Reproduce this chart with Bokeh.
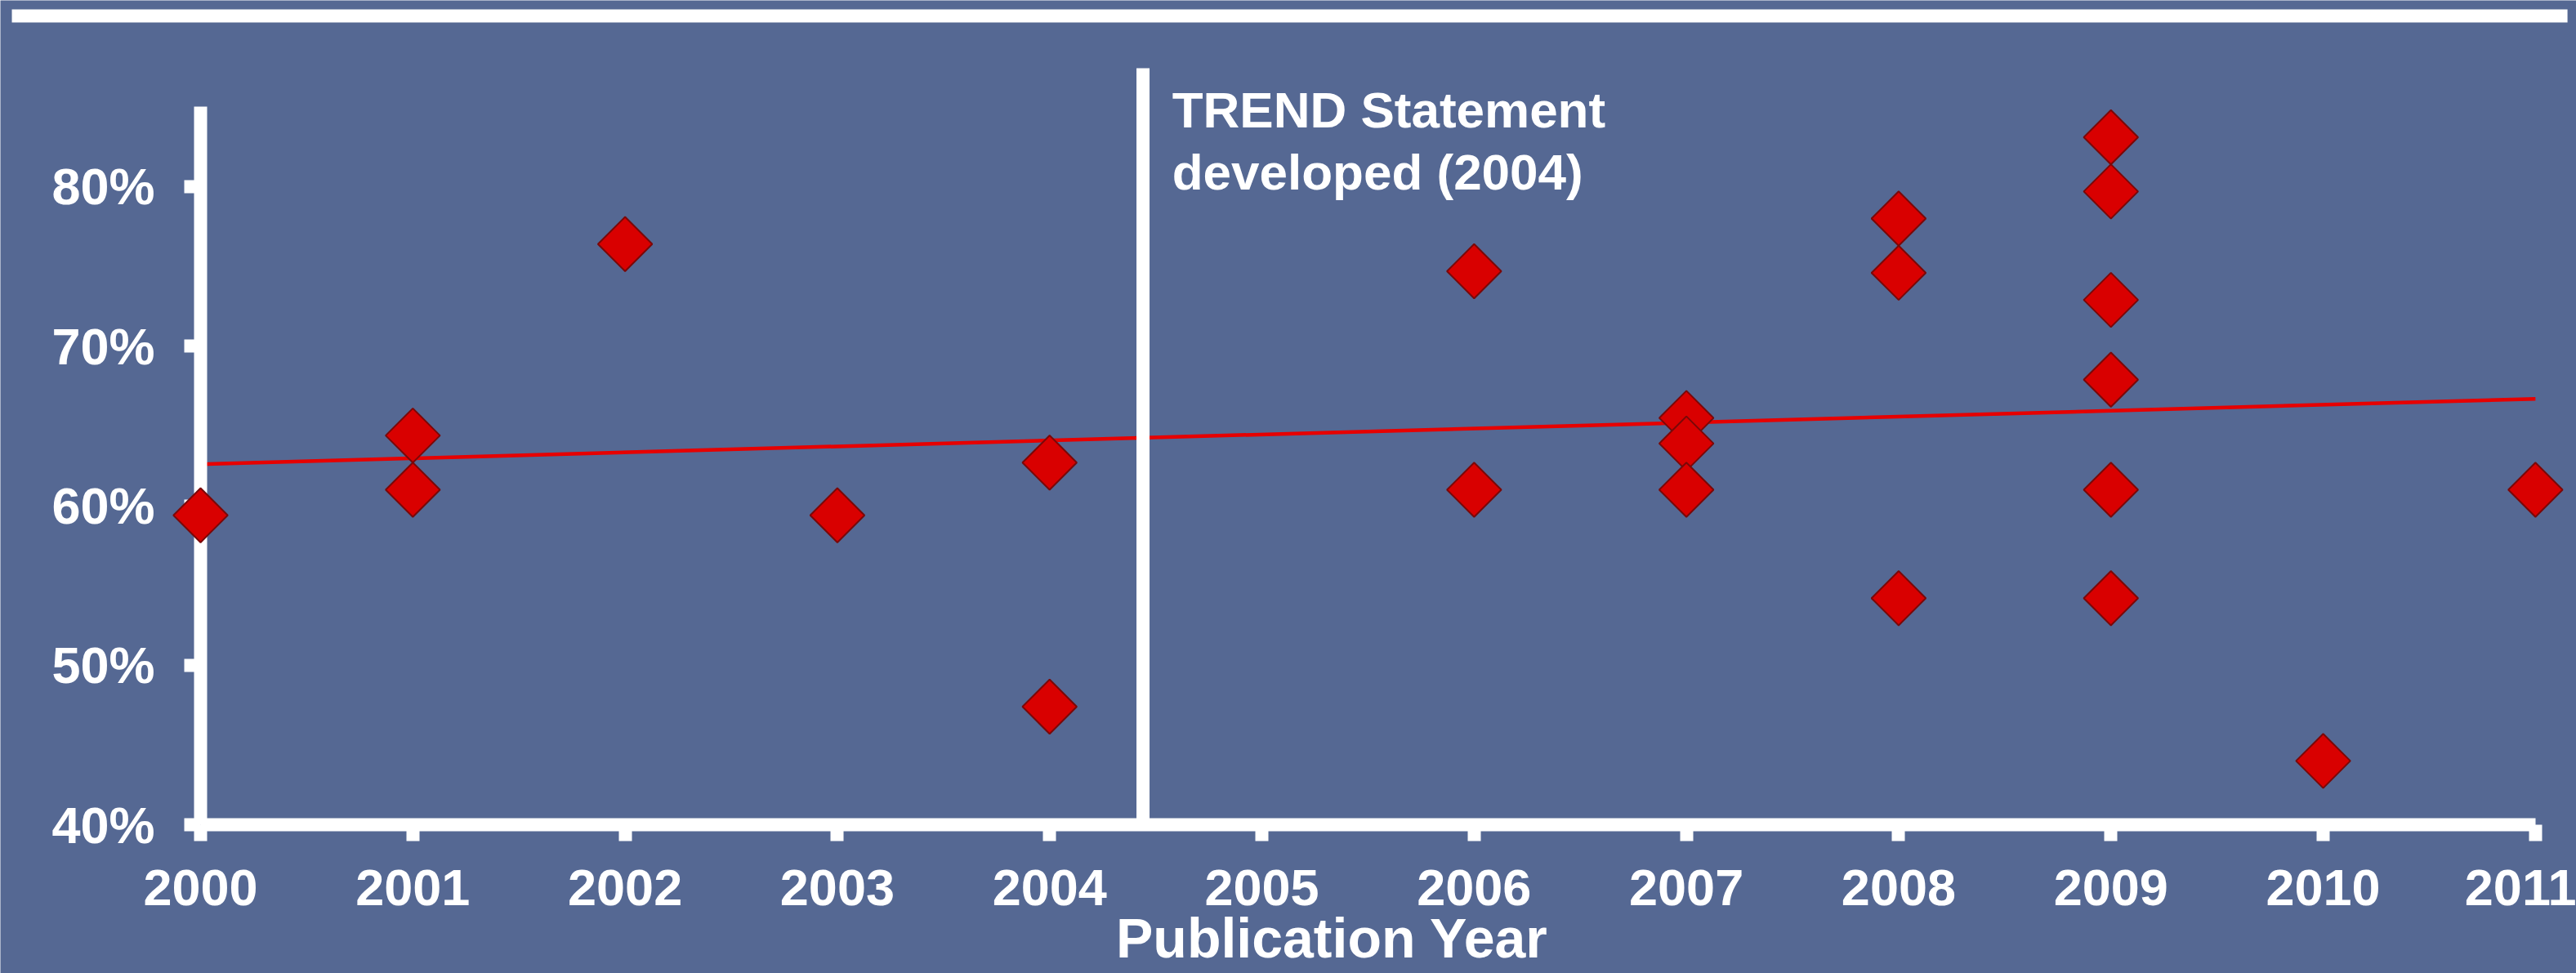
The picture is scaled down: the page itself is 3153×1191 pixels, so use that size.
import numpy as np
from bokeh.plotting import figure
from bokeh.models import Range1d, FixedTicker, PrintfTickFormatter, Label, BoxAnnotation
from bokeh.embed import file_html
from bokeh.resources import INLINE

# ---- data ----
years = [2000, 2001, 2001, 2002, 2003, 2004, 2004, 2006, 2006, 2007, 2007, 2007,
         2008, 2008, 2008, 2009, 2009, 2009, 2009, 2009, 2009, 2010, 2011]
pct = [59.4, 64.4, 61.0, 76.4, 59.4, 62.7, 47.4, 74.7, 61.0, 65.5, 63.9, 61.0,
       78.0, 74.6, 54.2, 83.1, 79.7, 72.9, 67.9, 61.0, 54.2, 44.0, 61.0]
trend_years = [2000, 2011]
trend_pct = [62.6, 66.7]
x_ticks = list(range(2000, 2012))
y_ticks = [40, 50, 60, 70, 80]
statement_year = 2004.44
statement_text = ["TREND Statement", "developed (2004)"]
x_title = "Publication Year"

BG = "#556893"
FONT = "Liberation Sans"

W, H = 3153, 1191
p = figure(width=W, height=H, output_backend="svg", toolbar_location=None,
           title=None, x_range=Range1d(1999.057, 2011.193),
           y_range=Range1d(30.679, 91.677),
           min_border_left=0, min_border_bottom=0, min_border_top=0,
           min_border_right=0)
p.background_fill_color = BG
p.border_fill_color = BG
p.outline_line_color = None
p.grid.visible = False

# top decorative bar
p.add_layout(BoxAnnotation(left=1999.111, right=2011.151, bottom=90.294, top=91.114,
                           fill_color="white", fill_alpha=1.0, line_color=None,
                           level="underlay"))

# trend line
p.line(trend_years, trend_pct, line_color="#e60000", line_width=4.5)

# vertical marker line
p.segment(x0=[statement_year], y0=[40], x1=[statement_year], y1=[87.43],
          line_color="white", line_width=16)

# diamonds
p.scatter(years, pct, marker="square", angle=np.pi / 4, size=47,
          fill_color="#d90000", line_color="#7a0808", line_width=2,
          level="overlay")

# axes (fixed inside the frame so that the frame fills the whole canvas)
for ax in (p.xaxis[0], p.yaxis[0]):
    ax.axis_line_color = "white"
    ax.axis_line_width = 16
    ax.major_tick_line_color = "white"
    ax.major_tick_line_width = 16
    ax.major_tick_in = 0
    ax.major_tick_out = 20
    ax.minor_tick_line_color = None
    ax.major_label_text_color = "white"
    ax.major_label_text_font = FONT
    ax.major_label_text_font_style = "bold"
    ax.major_label_text_font_size = "63px"

p.xaxis.fixed_location = 40
p.xaxis.ticker = FixedTicker(ticks=x_ticks)
p.xaxis.bounds = (2000, 2011)
p.xaxis.major_label_standoff = 35
p.yaxis.fixed_location = 2000
p.yaxis.ticker = FixedTicker(ticks=y_ticks)
p.yaxis.formatter = PrintfTickFormatter(format="%d%%")
p.yaxis.bounds = (40, 85)
p.yaxis.major_label_standoff = 36

# annotation text
p.add_layout(Label(x=2004.577, y=84.80, text=statement_text[0], text_color="white",
                   text_font=FONT, text_font_style="bold", text_font_size="62px",
                   text_baseline="alphabetic"))
p.add_layout(Label(x=2004.577, y=80.93, text=statement_text[1], text_color="white",
                   text_font=FONT, text_font_style="bold", text_font_size="62px",
                   text_baseline="alphabetic"))

# x axis title
p.add_layout(Label(x=2005.331, y=32.90, text=x_title, text_color="white",
                   text_font=FONT, text_font_style="bold", text_font_size="68px",
                   text_align="center", text_baseline="alphabetic"))

open("out.html", "w").write(file_html(p, INLINE))
